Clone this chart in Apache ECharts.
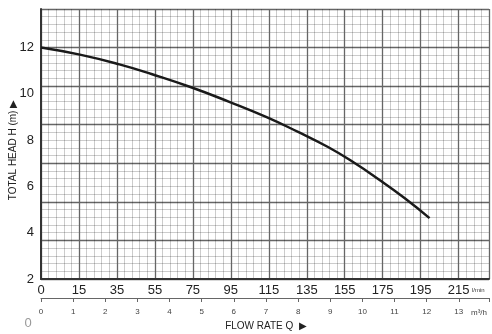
<!DOCTYPE html>
<html style="height: 100%">
<head>
    <meta charset="utf-8">
</head>
<body style="height: 100%; margin: 0; background: #fff">
<div id="container" style="width: 492px; height: 334px"></div>
<script src="https://cdn.jsdelivr.net/npm/echarts@6/dist/echarts.min.js"></script>
<script type="text/javascript">
    // pump curve, flow in m3/h, head in m
    var flowQ = [0, 1.21, 2.44, 3.46, 4.67, 5.84, 7.02, 8.0, 8.93, 9.71, 10.48, 11.31, 12.09];
    var headH = [12.0, 11.69, 11.27, 10.84, 10.28, 9.66, 8.99, 8.35, 7.70, 7.05, 6.33, 5.5, 4.63];

    // tick labels
    var lminLabels = ['0', '15', '35', '55', '75', '95', '115', '135', '155', '175', '195', '215'];
    var m3hLabels = ['0', '1', '2', '3', '4', '5', '6', '7', '8', '9', '10', '11', '12', '13'];
    var headLabels = [2, 4, 6, 8, 10, 12];

    var dom = document.getElementById("container");
    var myChart = echarts.init(dom);
    var font = 'Liberation Sans, Arial, sans-serif';

    var curve = [];
    for (var i = 0; i < flowQ.length; i++) {
        curve.push([flowQ[i], headH[i]]);
    }

    // minor lines translucent so they don't break the major ones where they cross
    var minorLine = {show: true, lineStyle: {color: 'rgba(0,0,0,0.2)', width: 1}};
    var majorLine = {show: true, lineStyle: {color: '#666', width: 1.3}};

    var option = {
        backgroundColor: '#fff',
        animation: false,
        grid: {left: 41, right: 0, top: 9, bottom: 55},
        xAxis: [
            {
                // graph paper cells + l/min labels
                type: 'value', min: 0, max: 11.8, interval: 1,
                axisLine: {lineStyle: {color: '#333', width: 2}},
                axisTick: {show: false},
                axisLabel: {
                    color: '#222', fontSize: 13, fontFamily: font, margin: 5,
                    formatter: function (v) { return lminLabels[v] !== undefined && v % 1 === 0 ? lminLabels[v] : ''; }
                },
                splitLine: majorLine,
                minorTick: {show: false, splitNumber: 5},
                minorSplitLine: minorLine
            },
            {
                // m3/h scale
                type: 'value', min: 0, max: 13.94, interval: 1,
                position: 'bottom', offset: 19,
                axisLine: {lineStyle: {color: '#666', width: 1}},
                axisTick: {show: true, length: 4, lineStyle: {color: '#666'}},
                axisLabel: {
                    color: '#444', fontSize: 8, fontFamily: font, margin: 10,
                    formatter: function (v) { return v % 1 === 0 && m3hLabels[v] !== undefined ? m3hLabels[v] : ''; }
                },
                splitLine: {show: false}
            }
        ],
        yAxis: [
            {
                type: 'value', min: 0, max: 7, interval: 1,
                axisLine: {show: true, lineStyle: {color: '#333', width: 2}},
                axisTick: {show: false},
                axisLabel: {show: false},
                splitLine: majorLine,
                minorTick: {show: false, splitNumber: 5},
                minorSplitLine: minorLine
            },
            {
                type: 'value', min: 2, max: 13.66, interval: 2,
                position: 'left',
                axisLine: {show: false},
                axisTick: {show: false},
                splitLine: {show: false},
                axisLabel: {
                    color: '#222', fontSize: 13, fontFamily: font, margin: 7,
                    formatter: function (v) { return headLabels.indexOf(v) >= 0 ? String(v) : ''; }
                }
            }
        ],
        graphic: [
            {type: 'text', x: 13, y: 150, rotation: Math.PI / 2,
                style: {text: 'TOTAL HEAD H (m) \u25B6', fill: '#222', font: '10px ' + font, align: 'center', verticalAlign: 'middle'}},
            {type: 'text', x: 266, y: 326,
                style: {text: 'FLOW RATE Q  \u25B6', fill: '#222', font: '10px ' + font, align: 'center', verticalAlign: 'middle'}},
            {type: 'text', x: 472, y: 290,
                style: {text: 'l/min', fill: '#333', font: '6px ' + font, align: 'left', verticalAlign: 'middle'}},
            {type: 'text', x: 471, y: 313,
                style: {text: 'm\u00B3/h', fill: '#444', font: '8px ' + font, align: 'left', verticalAlign: 'middle'}},
            {type: 'text', x: 28, y: 323,
                style: {text: '0', fill: '#999', font: '13px ' + font, align: 'center', verticalAlign: 'middle'}}
        ],
        series: [
            {
                type: 'line',
                xAxisIndex: 1,
                yAxisIndex: 1,
                data: curve,
                smooth: 0.5,
                showSymbol: false,
                lineStyle: {color: '#1a1a1a', width: 2.5}
            }
        ]
    };
    myChart.setOption(option, true);
</script>
</body>
</html>
